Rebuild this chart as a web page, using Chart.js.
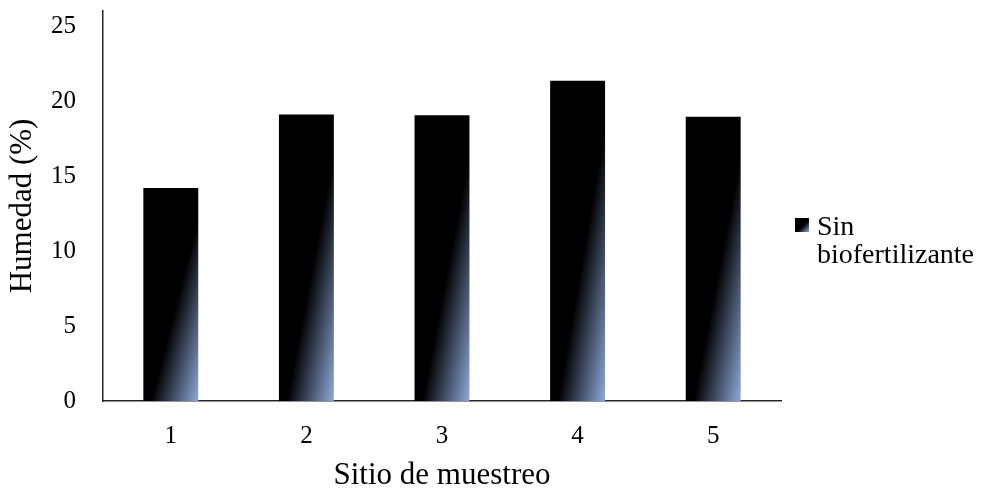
<!DOCTYPE html>
<html>
<head>
<meta charset="utf-8">
<script src="https://cdn.jsdelivr.net/npm/chart.js@4.4.1/dist/chart.umd.min.js"></script>
<style>
  html, body { margin: 0; padding: 0; background: #ffffff; }
  #wrap { width: 985px; height: 491px; }
</style>
</head>
<body>
<div id="wrap"><canvas id="chart" width="985" height="491"></canvas></div>
<script>
// Moisture per sampling site (no biofertilizer)
const sites = ['1', '2', '3', '4', '5'];
const humedad = [14.2, 19.1, 19.05, 21.35, 18.95];
const yTicks = [0, 5, 10, 15, 20, 25];
const seriesLines = ['Sin', 'biofertilizante'];
const xTitle = 'Sitio de muestreo';
const yTitle = 'Humedad (%)';

const SERIF = '"Liberation Serif", "Times New Roman", serif';

// Diagonal fill: black toward the top-left, fading to pale blue at the bottom-right,
// stretched to the element's own box.
function diagGradient(ctx, x0, y0, w, h) {
  const s = 2 / (1 / (w * w) + 1 / (h * h));
  const g = ctx.createLinearGradient(x0, y0, x0 + s / w, y0 + s / h);
  g.addColorStop(0, '#000000');
  g.addColorStop(0.57, '#000000');
  g.addColorStop(1, '#8eaadb');
  return g;
}

const barGradient = {
  id: 'barGradient',
  beforeDatasetsDraw(chart) {
    const ctx = chart.ctx;
    chart.getDatasetMeta(0).data.forEach(bar => {
      const p = bar.getProps(['x', 'y', 'base', 'width'], true);
      bar.options.backgroundColor = diagGradient(ctx, p.x - p.width / 2, p.y, p.width, p.base - p.y);
    });
  }
};

const sideLegend = {
  id: 'sideLegend',
  afterDraw(chart) {
    const { ctx, chartArea } = chart;
    const bx = chartArea.right + 14;
    const by = 218;
    ctx.save();
    ctx.fillStyle = diagGradient(ctx, bx, by, 14, 14);
    ctx.fillRect(bx, by, 14, 14);
    ctx.fillStyle = '#000000';
    ctx.font = '28px ' + SERIF;
    ctx.textBaseline = 'alphabetic';
    ctx.textAlign = 'left';
    seriesLines.forEach((line, i) => {
      ctx.fillText(line, bx + 22, by + 17 + i * 28);
    });
    ctx.restore();
  }
};

new Chart(document.getElementById('chart'), {
  type: 'bar',
  data: {
    labels: sites,
    datasets: [{
      label: seriesLines.join(' '),
      data: humedad,
      backgroundColor: () => '#000000',
      borderWidth: 0,
      barPercentage: 0.405,
      categoryPercentage: 1.0
    }]
  },
  options: {
    responsive: false,
    animation: false,
    devicePixelRatio: 1,
    layout: { padding: { top: 11, right: 204, left: 0, bottom: 0 } },
    plugins: {
      legend: { display: false },
      tooltip: { enabled: false }
    },
    scales: {
      x: {
        grid: { display: false, drawTicks: false },
        border: { display: true, color: '#262626', width: 1.5 },
        ticks: { color: '#000000', font: { family: SERIF, size: 25 }, padding: 20 },
        title: {
          display: true, text: xTitle, color: '#000000',
          font: { family: SERIF, size: 31, lineHeight: 1 },
          padding: { top: 0, bottom: 0 }
        },
        afterFit(scale) { scale.height = 90; }
      },
      y: {
        min: 0,
        max: 26,
        grid: { display: false, drawTicks: false },
        border: { display: true, color: '#262626', width: 1.5 },
        ticks: { color: '#000000', font: { family: SERIF, size: 25, lineHeight: 0.2 }, padding: 27 },
        afterBuildTicks(scale) { scale.ticks = yTicks.map(v => ({ value: v })); },
        title: {
          display: true, text: yTitle, color: '#000000',
          font: { family: SERIF, size: 31, lineHeight: 1 },
          padding: { top: 7, bottom: 0 }
        },
        afterFit(scale) {
          scale.width = 103;
          scale.paddingTop = 0;
        }
      }
    }
  },
  plugins: [barGradient, sideLegend]
});
</script>
</body>
</html>
